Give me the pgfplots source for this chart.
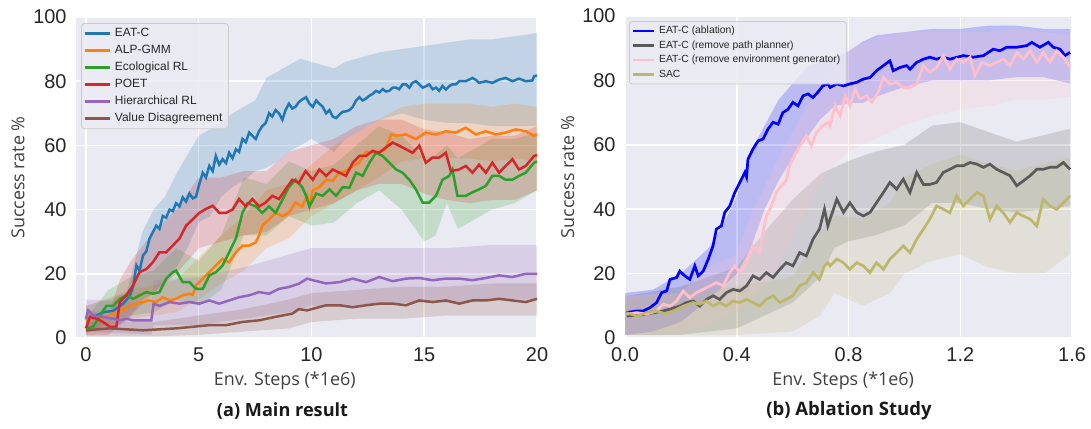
\documentclass[border=0pt]{standalone}
\usepackage{pgfplots}
\usepackage{pgfplotstable}
\pgfplotsset{compat=1.18}
\usepgfplotslibrary{fillbetween}
\usepackage{fontspec}
\setmainfont{Liberation Sans}
\newfontfamily\labelfont{Open Sans}

\definecolor{bgc}{HTML}{EAEAF2}
\definecolor{tickc}{HTML}{262626}
\definecolor{labc}{HTML}{404040}
\definecolor{legc}{HTML}{CCCCCC}
\definecolor{tabblue}{HTML}{1F77B4}
\definecolor{taborange}{HTML}{FF7F0E}
\definecolor{tabgreen}{HTML}{2CA02C}
\definecolor{tabred}{HTML}{D62728}
\definecolor{tabpurple}{HTML}{9467BD}
\definecolor{tabbrown}{HTML}{8C564B}
\definecolor{ablblue}{HTML}{0000FF}
\definecolor{nppgray}{HTML}{5A5A5A}
\definecolor{negpink}{HTML}{FFC0CB}
\definecolor{sacolive}{HTML}{BDB76B}

% ---------- (a) main result ----------
\pgfplotstableread{
x y
0 5.5
0.32 6.5
0.76 8
1.21 8.5
1.65 10.7
1.94 13
2.09 16
2.24 22.6
2.38 21
2.53 25.7
2.68 27
2.82 31
2.97 33
3.12 35
3.26 34
3.41 38
3.56 37.5
3.71 40
3.85 39.5
4.0 42
4.15 41
4.29 43.8
4.44 42.5
4.59 45
4.74 43.5
4.88 44
5.03 48
5.18 51.5
5.32 50
5.47 53.6
5.62 52
5.76 56.7
5.91 54
6.06 55.7
6.21 54.5
6.35 57.7
6.5 56
6.65 58.8
6.79 58
6.94 62
7.09 61
7.24 64
7.38 63
7.53 62
7.68 64.5
7.82 66
7.97 67
8.12 70
8.26 69
8.41 71
8.56 70
8.71 68
8.85 71
9.0 73
9.15 71.5
9.29 72
9.44 73.5
9.59 74.3
9.76 75
9.91 73
10.06 72
10.21 74
10.35 73
10.5 72
10.65 70
10.8 71
10.94 69
11.09 68.5
11.24 69.6
11.39 70.5
11.53 70.6
11.68 71
11.83 72
11.98 74
12.12 75
12.27 74
12.42 74.6
12.57 75.5
12.71 76
12.86 77
13.01 76.5
13.16 77.5
13.3 76.8
13.45 77
13.6 78
13.75 78
13.89 77.5
14.04 79
14.19 79
14.34 78
14.48 79.5
14.63 80
14.78 79
14.93 78
15.07 78.4
15.22 79
15.37 77.5
15.52 78
15.66 77
15.81 78.5
15.96 77.4
16.11 78.5
16.25 79
16.4 79
16.55 80
16.84 80
17.14 81
17.29 80.4
17.43 79.5
17.73 80
18.02 79.5
18.17 80
18.32 80.5
18.61 81
18.91 80
19.06 80.4
19.2 80.8
19.5 80
19.79 80.2
19.87 81.5
20 81.8
}\tEatc
\pgfplotstableread{
x lo hi
0 2 10
1 3 12
1.8 5 14
2.5 12 33
3 14 40
3.5 18 44
4 22 51
4.5 28 57
5 36 63
5.5 38 65
6 44 67
6.5 47 70
7 49 72
7.5 52 74
8 53 81
8.5 55 83
9 58 85
9.5 60 87
10 62 86
10.5 60 85
11 58 84
11.5 62 86
12 64 87
12.5 66 88
13 68 89
14 70 90
15 68 91
16 67 92
17 67 93
18 66 93
19 66 94
20 66 95
}\tEatcB
\pgfplotstableread{
x y
0 5.5
0.32 6
0.76 6.5
1.21 7.6
1.65 8.6
1.94 10
2.24 10.7
2.53 11.2
2.82 11.7
3.12 11.2
3.41 12.7
3.71 11.7
4.0 12.2
4.29 13.3
4.59 13.8
4.74 13.5
4.88 16.4
5.18 18.5
5.47 20.5
5.76 22.6
6.06 24.7
6.35 23.6
6.65 26.7
6.94 28.8
7.24 28.8
7.53 29.8
7.68 32
7.82 35
8.12 37
8.41 39
8.71 38
9.0 39
9.29 42.2
9.59 41
9.81 44.3
9.91 41
10.06 46
10.35 47
10.65 49.3
10.94 49
11.24 51.5
11.53 52
11.83 53.6
12.12 54.6
12.42 58
12.86 57.7
13.3 58.8
13.53 63.4
13.75 63
14.19 63.4
14.63 62
15.07 64
15.52 63.4
15.96 64.4
16.4 64
16.84 65.5
17.29 63.4
17.73 64.4
18.17 63.4
18.61 64
19.06 65
19.5 64.4
19.87 63
20 63.5
}\tAlp
\pgfplotstableread{
x lo hi
0 2 10
2 6 15
4 8 18
5 12 25
6 17 32
7 21 38
8 28 46
9 31 48
10 38 54
11 42 60
12 46 64
13 50 68
14 55 72
15 56 73
16 56 73
17 56 73
18 55 72
19 56 73
20 55 72
}\tAlpB
\pgfplotstableread{
x y
0 3
0.32 3.5
0.62 7
0.91 10
1.21 10
1.5 12.2
1.79 13.3
2.09 12.2
2.38 13.3
2.68 14.3
2.97 13.8
3.26 14.3
3.56 18.5
3.85 20.5
4.0 21
4.29 17.4
4.59 17.4
4.88 15.3
5.18 15.3
5.47 19.5
5.76 20.5
6.06 22.6
6.35 26.7
6.65 31
6.94 39
7.16 42
7.53 41
7.82 39
8.12 41
8.41 39
8.71 43
9.0 47
9.29 49.3
9.59 47
9.76 44.3
9.91 41
10.21 45
10.5 44.3
10.8 46.3
11.09 44.3
11.39 47
11.68 46.8
11.98 51.5
12.27 50.5
12.57 54.6
12.86 57.7
13.16 56.7
13.45 54.6
13.75 52.5
14.04 51.5
14.34 49.3
14.63 46.3
14.93 42.2
15.22 42.2
15.52 44.3
15.81 49.3
16.11 50.5
16.25 52.5
16.47 44.3
16.84 44.3
17.14 45.4
17.43 46.3
17.73 47.4
18.02 50.5
18.32 50.5
18.61 49.3
18.91 49.3
19.2 50.5
19.5 51.5
19.87 54.6
20 55
}\tEco
\pgfplotstableread{
x lo hi
0 1 6
1 5 15
2 7 19
3 8 21
4 12 28
5 10 24
6 15 32
7 32 50
8 32 48
9 38 55
10 35 52
11 36 54
12 42 60
13 46 66
14 40 63
15 30 56
15.5 32 57
16 42 60
16.5 34 56
17 36 58
18 40 62
19 42 62
20 46 64
}\tEcoB
\pgfplotstableread{
x y
0 3
0.18 6.6
0.47 6
0.76 5
1.06 3.5
1.35 3.5
1.5 11.2
1.79 13.3
2.09 16.4
2.38 20.5
2.68 21.5
2.97 23.6
3.26 26.7
3.56 26.7
3.85 28.8
4.15 31
4.44 35
4.74 37
5.03 39
5.32 40.2
5.62 41.2
5.91 39
6.21 39
6.5 40
6.79 43.3
7.09 41
7.38 43.3
7.68 41
7.97 42.2
8.26 44.3
8.56 43.3
8.85 46.3
9.15 49.3
9.44 48.3
9.74 52
10.06 49.3
10.35 52.5
10.65 50.5
10.94 52.5
11.24 51.5
11.53 50.5
11.83 54.6
12.12 56.7
12.42 56.7
12.71 58.3
13.01 57.7
13.3 59.4
13.6 60.9
13.89 59.9
14.19 58.8
14.48 57.7
14.78 59.9
15.07 54.6
15.37 56.2
15.66 56.2
15.96 57.7
16.18 52
16.55 52.5
16.84 53.6
17.14 51.5
17.43 54
17.73 51.5
18.02 54.6
18.32 51.5
18.61 53.6
18.91 55.7
19.2 52.5
19.5 53.6
19.87 56.7
20 57
}\tPoet
\pgfplotstableread{
x lo hi
0 1 9
1 1 7
1.5 4 18
2 7 24
3 14 33
4 20 40
5 28 50
6 30 50
7 32 52
8 33 52
9 38 58
10 40 60
11 42 62
12 46 66
13 48 68
14 48 68
15 45 65
16 43 64
17 42 62
18 43 63
19 43 63
20 46 66
}\tPoetB
\pgfplotstableread{
x y
0 6
0.1 8.6
0.32 7
0.76 6.5
1.21 6
1.5 5.5
1.79 6
2.09 5.5
2.53 5.5
2.9 5.5
3.0 10.7
3.26 10
3.71 11.2
4.15 10.7
4.59 11.2
5.03 10.7
5.47 11.7
5.91 10.7
6.35 11.7
6.79 12.7
7.24 13.3
7.68 14.3
8.12 13.8
8.56 15.3
9.0 15.9
9.44 16.9
9.81 18.5
10.06 18
10.65 17
11.24 17.4
11.83 18.5
12.42 17.4
13.01 19
13.6 17.7
14.19 18.5
14.78 18.7
15.37 18
15.96 18.5
16.55 18.5
17.14 18
17.73 18.7
18.32 19.5
18.91 19
19.5 20
20 20
}\tHrl
\pgfplotstableread{
x lo hi
0 2 12
2.9 1 11
3 4 18
5 4 19
7 6 22
9 8 26
10 10 28
12 10 28
14 11 28
16 11 28
18 12 29
20 12 29
}\tHrlB
\pgfplotstableread{
x y
0 2.4
1.06 3
2.53 2.4
3.26 2.7
4.0 3
4.74 3.5
5.47 4
6.21 4
6.94 5
7.68 5.5
8.41 6.6
9.15 7.6
9.44 9
9.81 8.6
10.06 9.1
10.65 10.2
11.24 10.2
11.83 9.6
12.42 10.2
13.01 10.7
13.6 10.7
14.19 10.2
14.78 11.7
15.37 11.2
15.96 11.7
16.55 10.7
17.14 11.7
17.73 11.7
18.32 12.2
18.91 11.7
19.5 11.2
20 12.2
}\tVd
\pgfplotstableread{
x lo hi
0 0.5 5
3 0.5 5
5 1 7
7 2 9
9 3 12
10 5 14
12 6 15
14 6 16
16 7 16
18 7 17
20 7 17
}\tVdB

% ---------- (b) ablation ----------
\pgfplotstableread{
x y
0.006 7.9
0.042 8.4
0.065 8.4
0.089 9.4
0.113 11
0.131 14.1
0.149 14.6
0.161 18.2
0.185 18.8
0.196 20.8
0.214 19.3
0.232 18.2
0.25 22.4
0.262 19.3
0.28 20.8
0.298 24.5
0.315 28.6
0.327 33.8
0.345 34.8
0.357 39
0.375 41
0.393 45.2
0.411 48.3
0.429 51.4
0.435 50
0.44 55.5
0.458 58.7
0.476 61.2
0.494 61.8
0.512 64.9
0.53 67
0.548 66.4
0.565 70
0.583 71
0.601 73.2
0.619 72.1
0.637 75.2
0.655 75.8
0.673 74.7
0.69 76.3
0.708 78.3
0.726 78.9
0.734 77.8
0.758 78.9
0.782 78.3
0.805 78.9
0.829 79.4
0.853 80.4
0.877 80.9
0.9 83
0.925 84.6
0.948 86.1
0.96 83
0.984 84
1.008 84.6
1.02 83.5
1.044 85.6
1.068 86.6
1.091 87.2
1.115 86.6
1.139 87.2
1.163 86.6
1.211 87.7
1.247 87.2
1.283 87.7
1.318 89.7
1.342 89.2
1.366 90.3
1.402 90.3
1.438 90.8
1.456 91.8
1.485 90.3
1.515 91.8
1.533 90.3
1.557 89.7
1.575 87.7
1.593 88.7
}\tAbl
\pgfplotstableread{
x lo hi
0 1 14
0.1 2 15
0.2 5 20
0.3 12 28
0.35 16 35
0.4 20 44
0.45 28 58
0.5 40 66
0.55 49 74
0.6 56 79
0.65 62 84
0.7 68 86
0.75 72 87
0.8 73 89
0.85 73 92
0.9 75 94
1.0 78 95
1.1 80 96
1.2 80 96
1.3 80 97
1.4 81 97
1.5 81 96
1.593 79 96
}\tAblB
\pgfplotstableread{
x y
0.006 6.8
0.077 7.4
0.137 8.4
0.196 9.9
0.22 11
0.244 11.5
0.268 9.9
0.292 12
0.315 13.1
0.339 12
0.363 14.1
0.387 15.1
0.411 14.6
0.435 16.2
0.458 19.3
0.482 18.2
0.506 20.3
0.53 18.8
0.554 21.3
0.577 23.4
0.601 22.4
0.625 26.5
0.649 25.5
0.673 30.7
0.696 33.8
0.714 40
0.726 34.8
0.734 36.9
0.758 43.1
0.782 39
0.805 42
0.829 39
0.853 37.9
0.877 39
0.9 42
0.925 45.2
0.948 48.3
0.972 46.2
0.996 49.3
1.02 45.2
1.044 51.4
1.068 47.7
1.091 47.7
1.115 48.3
1.139 51.4
1.163 52.4
1.187 53.5
1.211 53.5
1.235 54.5
1.259 54
1.283 53
1.306 54
1.33 52.4
1.354 51.4
1.378 50.4
1.402 47.3
1.426 48.8
1.45 50.4
1.474 52.4
1.497 52.4
1.521 53
1.545 53
1.569 54.5
1.593 52.4
}\tNpp
\pgfplotstableread{
x lo hi
0 1 13
0.2 1 16
0.4 3 22
0.5 7 33
0.6 11 43
0.7 19 51
0.75 28 53
0.8 30 55
0.9 32 58
1.0 35 60
1.1 42 66
1.2 42 67
1.3 40 64
1.4 39 61
1.5 40 63
1.593 41 65
}\tNppB
\pgfplotstableread{
x y
0.006 7.4
0.042 7.9
0.077 7.4
0.113 8.4
0.137 10.5
0.161 9.9
0.185 11.5
0.208 14.6
0.232 12.5
0.256 14.1
0.28 15.1
0.304 16.2
0.327 17.2
0.351 16.2
0.375 20.3
0.393 22.4
0.411 20.3
0.435 23.4
0.458 28.6
0.482 26.5
0.494 32.7
0.506 37.9
0.524 41
0.542 45.2
0.56 47.3
0.577 48.8
0.589 53.5
0.607 56.6
0.625 59.7
0.649 62.8
0.667 59.7
0.685 63.8
0.708 65.9
0.726 67
0.734 65.9
0.752 72.1
0.770 69
0.788 75.2
0.805 72.1
0.823 77.3
0.841 74.2
0.865 75.2
0.883 73.2
0.906 76.3
0.925 80.9
0.948 78.9
0.972 79.4
0.996 77.8
1.02 77.8
1.044 78.9
1.068 84.6
1.091 82.5
1.115 84
1.139 87.7
1.163 83.5
1.187 86.6
1.211 85.6
1.235 87.2
1.253 81.5
1.277 85.6
1.306 84.6
1.33 85.6
1.354 86.6
1.378 84.6
1.402 88.7
1.426 86.6
1.45 89.2
1.474 85.6
1.497 88.7
1.521 85.6
1.545 89.2
1.569 87.2
1.593 84
}\tNoGen
\pgfplotstableread{
x lo hi
0 1 13
0.2 2 14
0.3 4 22
0.4 8 26
0.45 12 38
0.5 17 47
0.55 22 56
0.6 32 64
0.65 40 72
0.7 48 77
0.75 54 84
0.8 58 90
0.9 62 93
1.0 66 95
1.1 69 95
1.2 71 95
1.3 72 95
1.4 74 96
1.5 74 95
1.593 75 94
}\tNoGenB
\pgfplotstableread{
x y
0.006 7.9
0.042 6.8
0.077 7.9
0.113 8.4
0.149 7.4
0.185 8.9
0.208 9.9
0.244 11
0.268 10.5
0.292 11.5
0.315 9.9
0.339 11
0.363 9.9
0.387 11.5
0.411 11
0.435 12
0.458 11
0.482 9.9
0.506 12
0.53 13.1
0.554 11
0.577 12
0.601 13.1
0.625 16.2
0.649 17.2
0.673 20.3
0.696 18.2
0.714 22.4
0.726 23.4
0.734 22.4
0.758 24.5
0.782 23.4
0.805 21.3
0.829 23.4
0.853 22.4
0.877 20.3
0.9 23.4
0.925 21.3
0.948 24.5
0.972 26.5
0.996 28.6
1.02 26.5
1.044 30.7
1.068 33.8
1.091 36.9
1.115 41
1.139 40
1.163 38.9
1.187 44.1
1.211 41
1.235 43.1
1.259 45.2
1.283 44.1
1.306 36.9
1.33 41
1.354 38.9
1.378 35.9
1.402 38.9
1.426 37.9
1.45 36.9
1.474 34.8
1.497 43.1
1.521 41
1.545 40
1.569 42
1.593 44.1
}\tSac
\pgfplotstableread{
x lo hi
0 1 12
0.2 1 14
0.4 1 16
0.6 2 19
0.7 7 33
0.75 14 38
0.85 10 37
0.95 14 42
1.0 20 50
1.1 24 54
1.2 26 57
1.3 22 54
1.4 20 52
1.5 20 54
1.593 26 56
}\tSacB

\pgfplotsset{
  sns/.style={
    scale only axis, anchor=south west, clip mode=individual,
    axis background/.style={fill=bgc},
    axis line style={draw=none},
    tick style={draw=none}, major tick length=0pt,
    grid=major, grid style={white, line width=0.75bp},
    ymin=0, ymax=100, ytick={0,20,40,60,80,100},
    ticklabel style={font=\fontsize{10}{12}\selectfont, text=tickc},
    /pgf/number format/assume math mode=true,
    yticklabel style={xshift=-1.2bp},
    xticklabel style={yshift=-1.2bp},
    xlabel={Env. Steps (*1e6)},
    ylabel={Success rate \%},
    label style={font=\labelfont\fontsize{9}{11}\selectfont, text=labc},
    legend cell align=left,
    legend image code/.code={\draw[##1] (0bp,0bp) -- (12.5bp,0bp);},
    legend style={draw=legc, fill=bgc, fill opacity=0.8, draw opacity=1, text opacity=1,
      rounded corners=1.5bp, text=tickc, inner xsep=1bp, inner ysep=1.5bp},
  },
  band/.style={fill=#1, fill opacity=0.2, draw=none, forget plot},
}

\begin{document}
\begin{tikzpicture}[x=1bp,y=1bp]

\begin{axis}[sns, at={(38bp,45bp)}, width=230.5bp, height=160.5bp,
  xmin=-0.44, xmax=20, xtick={0,5,10,15,20},
  xlabel style={at={(axis description cs:0.453,-0.134)}, anchor=center},
  ylabel style={at={(axis description cs:-0.126,0.5)}, anchor=center},
  legend style={at={(axis description cs:0.011,0.981)}, anchor=north west,
    font=\fontsize{6}{7}\selectfont, row sep=1.4bp,
    nodes={inner xsep=2bp, inner ysep=0.6bp, text height=4.6bp, text depth=1.3bp}},
  every axis plot/.append style={line width=1.25bp},
]
\addplot[draw=none, name path=a1, forget plot] table[x=x,y=hi]{\tEatcB};
\addplot[draw=none, name path=a2, forget plot] table[x=x,y=lo]{\tEatcB};
\addplot[band=tabblue] fill between[of=a1 and a2];
\addplot[draw=none, name path=b1, forget plot] table[x=x,y=hi]{\tAlpB};
\addplot[draw=none, name path=b2, forget plot] table[x=x,y=lo]{\tAlpB};
\addplot[band=taborange] fill between[of=b1 and b2];
\addplot[draw=none, name path=c1, forget plot] table[x=x,y=hi]{\tEcoB};
\addplot[draw=none, name path=c2, forget plot] table[x=x,y=lo]{\tEcoB};
\addplot[band=tabgreen] fill between[of=c1 and c2];
\addplot[draw=none, name path=d1, forget plot] table[x=x,y=hi]{\tPoetB};
\addplot[draw=none, name path=d2, forget plot] table[x=x,y=lo]{\tPoetB};
\addplot[band=tabred] fill between[of=d1 and d2];
\addplot[draw=none, name path=e1, forget plot] table[x=x,y=hi]{\tHrlB};
\addplot[draw=none, name path=e2, forget plot] table[x=x,y=lo]{\tHrlB};
\addplot[band=tabpurple] fill between[of=e1 and e2];
\addplot[draw=none, name path=f1, forget plot] table[x=x,y=hi]{\tVdB};
\addplot[draw=none, name path=f2, forget plot] table[x=x,y=lo]{\tVdB};
\addplot[band=tabbrown] fill between[of=f1 and f2];

\addplot[tabblue] table[x=x,y=y]{\tEatc};
\addlegendentry{EAT-C}
\addplot[taborange] table[x=x,y=y]{\tAlp};
\addlegendentry{ALP-GMM}
\addplot[tabgreen] table[x=x,y=y]{\tEco};
\addlegendentry{Ecological RL}
\addplot[tabred] table[x=x,y=y]{\tPoet};
\addlegendentry{POET}
\addplot[tabpurple] table[x=x,y=y]{\tHrl};
\addlegendentry{Hierarchical RL}
\addplot[tabbrown] table[x=x,y=y]{\tVd};
\addlegendentry{Value Disagreement}

\node[font=\labelfont\bfseries\fontsize{9.1}{11}\selectfont, text=black!90]
  at (axis description cs:0.448,-0.227) {(a) Main result};
\end{axis}

\begin{axis}[sns, at={(312.5bp,45bp)}, width=223.5bp, height=161bp,
  xmin=0, xmax=1.6, xtick={0,0.4,0.8,1.2,1.6},
  xticklabel style={/pgf/number format/.cd, fixed, fixed zerofill, precision=1},
  xlabel style={at={(axis description cs:0.488,-0.134)}, anchor=center},
  ylabel style={at={(axis description cs:-0.128,0.5)}, anchor=center},
  legend style={at={(axis description cs:0.009,0.984)}, anchor=north west,
    font=\fontsize{5.2}{6.2}\selectfont, row sep=1bp,
    nodes={inner xsep=2bp, inner ysep=0.6bp, text height=4bp, text depth=1.1bp}},
  legend image code/.code={\draw[#1] (0bp,0bp) -- (10.5bp,0bp);},
  every axis plot/.append style={line width=1.35bp},
]
\addplot[draw=none, name path=g1, forget plot] table[x=x,y=hi]{\tAblB};
\addplot[draw=none, name path=g2, forget plot] table[x=x,y=lo]{\tAblB};
\addplot[band=ablblue] fill between[of=g1 and g2];
\addplot[draw=none, name path=h1, forget plot] table[x=x,y=hi]{\tNppB};
\addplot[draw=none, name path=h2, forget plot] table[x=x,y=lo]{\tNppB};
\addplot[band=nppgray] fill between[of=h1 and h2];
\addplot[draw=none, name path=i1, forget plot] table[x=x,y=hi]{\tNoGenB};
\addplot[draw=none, name path=i2, forget plot] table[x=x,y=lo]{\tNoGenB};
\addplot[band=negpink] fill between[of=i1 and i2];
\addplot[draw=none, name path=j1, forget plot] table[x=x,y=hi]{\tSacB};
\addplot[draw=none, name path=j2, forget plot] table[x=x,y=lo]{\tSacB};
\addplot[band=sacolive] fill between[of=j1 and j2];

\addplot[ablblue] table[x=x,y=y]{\tAbl};
\addlegendentry{EAT-C (ablation)}
\addplot[nppgray] table[x=x,y=y]{\tNpp};
\addlegendentry{EAT-C (remove path planner)}
\addplot[negpink] table[x=x,y=y]{\tNoGen};
\addlegendentry{EAT-C (remove environment generator)}
\addplot[sacolive] table[x=x,y=y]{\tSac};
\addlegendentry{SAC}

\node[font=\labelfont\bfseries\fontsize{9.3}{11}\selectfont, text=black!90]
  at (axis description cs:0.501,-0.227) {(b) Ablation Study};
\end{axis}
\pgfresetboundingbox
\path[use as bounding box] (0,0) rectangle (545.5,214);
\end{tikzpicture}
\end{document}
